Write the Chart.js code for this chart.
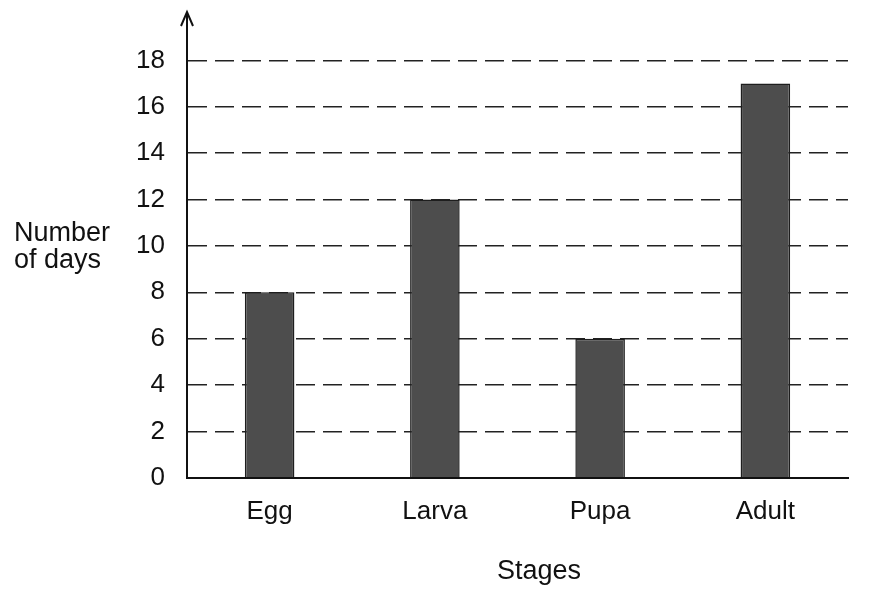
<!DOCTYPE html>
<html>
<head>
<meta charset="utf-8">
<script src="https://cdn.jsdelivr.net/npm/chart.js@4.4.1/dist/chart.umd.min.js"></script>
<style>
  html, body { margin: 0; padding: 0; background: #fff; }
  #wrap { position: relative; width: 891px; height: 590px; }
  .axisTitle {
    position: absolute; color: #111;
    font: 27px "Liberation Sans", Arial, sans-serif; line-height: 27px;
  }
  #yTitle { left: 14px; top: 219px; }
  #xTitle { left: 439px; top: 555px; width: 200px; text-align: center; line-height: 30px; }
</style>
</head>
<body>
<div id="wrap">
  <canvas id="stagesChart" width="891" height="590"></canvas>
  <div id="yTitle" class="axisTitle">Number<br>of days</div>
  <div id="xTitle" class="axisTitle">Stages</div>
</div>
<script>
const stages = ['Egg', 'Larva', 'Pupa', 'Adult'];
const days = [8, 12, 6, 17];
const yTicks = [0, 2, 4, 6, 8, 10, 12, 14, 16, 18];
const yAxisMax = 20;

const FONT = { family: '"Liberation Sans", Arial, sans-serif', size: 26 };

// arrow head on top of the y axis
const axisArrow = {
  id: 'axisArrow',
  afterDraw(chart) {
    const { ctx, chartArea } = chart;
    const x = chartArea.left;
    const top = chartArea.top - 2;
    ctx.save();
    ctx.strokeStyle = '#111';
    ctx.lineWidth = 2;
    ctx.beginPath();
    ctx.moveTo(x - 6, top + 14);
    ctx.lineTo(x, top);
    ctx.lineTo(x + 6, top + 14);
    ctx.stroke();
    ctx.restore();
  },
};

new Chart(document.getElementById('stagesChart'), {
  type: 'bar',
  data: {
    labels: stages,
    datasets: [
      {
        data: days,
        backgroundColor: '#4d4d4d',
        borderColor: '#1e1e1e',
        borderWidth: 1.5,
        categoryPercentage: 1,
        barPercentage: 0.3,
      },
    ],
  },
  options: {
    responsive: false,
    animation: false,
    layout: { padding: { top: 14, right: 43, left: 0, bottom: 45 } },
    plugins: { legend: { display: false }, tooltip: { enabled: false } },
    scales: {
      x: {
        grid: { display: false, drawTicks: false },
        border: { display: true, color: '#111', width: 2 },
        ticks: { color: '#111', font: FONT, padding: 18 },
      },
      y: {
        min: 0,
        max: yAxisMax,
        afterFit(scale) {
          scale.width = 187;
          scale.paddingTop = 0;
          scale.paddingBottom = 0;
        },
        afterBuildTicks(scale) {
          scale.ticks = [...yTicks, yAxisMax].map(v => ({ value: v }));
        },
        grid: {
          drawTicks: false,
          color: ctx => (ctx.tick && (ctx.tick.value === 0 || ctx.tick.value === yAxisMax) ? 'rgba(0,0,0,0)' : '#222'),
          lineWidth: 1.5,
        },
        border: { display: true, color: '#111', width: 2, dash: [19, 8] },
        ticks: {
          color: '#111',
          font: FONT,
          padding: 22,
          callback: v => (yTicks.includes(v) ? v : ''),
        },
      },
    },
  },
  plugins: [axisArrow],
});
</script>
</body>
</html>
